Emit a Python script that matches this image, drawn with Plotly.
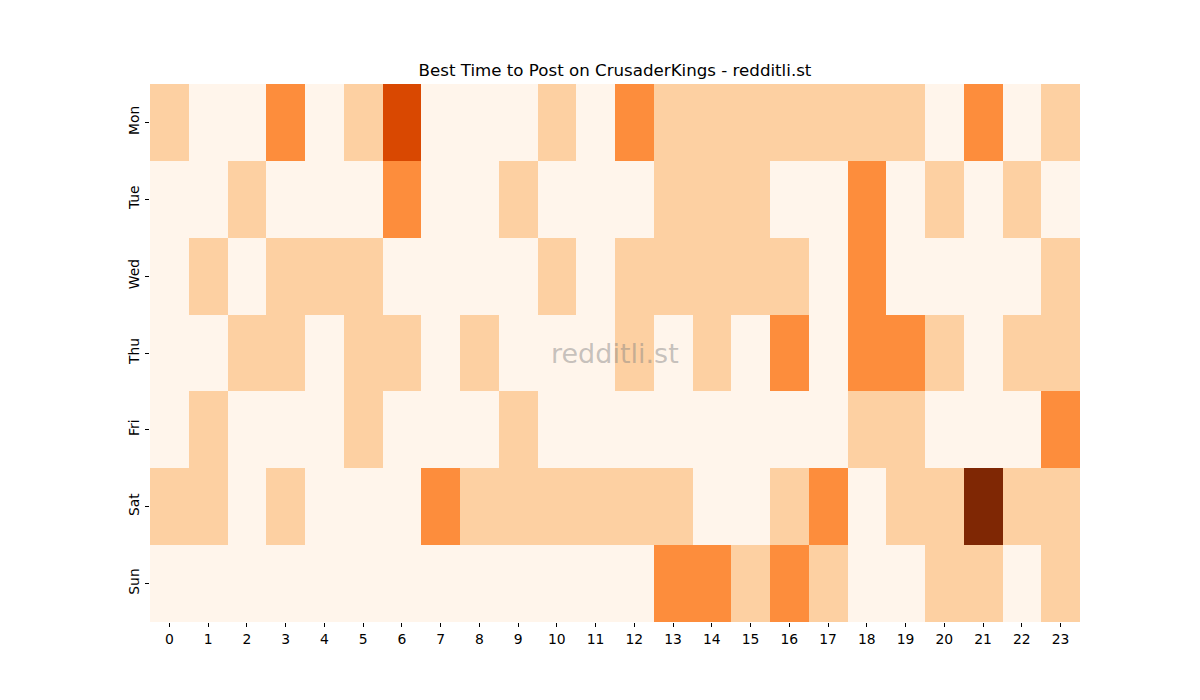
import plotly.graph_objects as go

days = ["Mon", "Tue", "Wed", "Thu", "Fri", "Sat", "Sun"]
hours = list(range(24))

mon = [1, 0, 0, 2, 0, 1, 3, 0, 0, 0, 1, 0, 2, 1, 1, 1, 1, 1, 1, 1, 0, 2, 0, 1]
tue = [0, 0, 1, 0, 0, 0, 2, 0, 0, 1, 0, 0, 0, 1, 1, 1, 0, 0, 2, 0, 1, 0, 1, 0]
wed = [0, 1, 0, 1, 1, 1, 0, 0, 0, 0, 1, 0, 1, 1, 1, 1, 1, 0, 2, 0, 0, 0, 0, 1]
thu = [0, 0, 1, 1, 0, 1, 1, 0, 1, 0, 0, 0, 1, 0, 1, 0, 2, 0, 2, 2, 1, 0, 1, 1]
fri = [0, 1, 0, 0, 0, 1, 0, 0, 0, 1, 0, 0, 0, 0, 0, 0, 0, 0, 1, 1, 0, 0, 0, 2]
sat = [1, 1, 0, 1, 0, 0, 0, 2, 1, 1, 1, 1, 1, 1, 0, 0, 1, 2, 0, 1, 1, 4, 1, 1]
sun = [0, 0, 0, 0, 0, 0, 0, 0, 0, 0, 0, 0, 0, 2, 2, 1, 2, 1, 0, 0, 1, 1, 0, 1]

z = [mon, tue, wed, thu, fri, sat, sun]

fig = go.Figure(go.Heatmap(
    z=z, x=hours, y=days,
    colorscale="Oranges", zmin=0, zmax=4, showscale=False,
    hoverongaps=False,
))

font = dict(family="DejaVu Sans", size=13.9, color="black")
fig.update_layout(
    width=1200, height=700,
    margin=dict(l=150, r=120, t=84, b=78),
    paper_bgcolor="white", plot_bgcolor="white",
    font=font,
    title=dict(text="Best Time to Post on CrusaderKings - redditli.st",
               x=0.5, xanchor="center", xref="paper", y=1 - 70 / 700, yanchor="middle",
               font=dict(family="DejaVu Sans", size=16.67, color="black")),
    xaxis=dict(tickmode="array", tickvals=hours, ticktext=[str(h) for h in hours],
               ticks="outside", ticklen=4, tickcolor="black", showgrid=False,
               tickfont=dict(size=13.9),
               zeroline=False, showline=False),
    yaxis=dict(autorange="reversed", ticks="outside", ticklen=4, tickcolor="black",
               tickangle=-90, showgrid=False, zeroline=False, showline=False,
               tickfont=dict(size=13.9)),
    annotations=[dict(text="redditli.st", x=0.5, y=0.5, xref="paper", yref="paper",
                      showarrow=False,
                      font=dict(family="DejaVu Sans", size=27, color="rgba(128,128,128,0.45)"))],
)

fig.write_html("out.html")
